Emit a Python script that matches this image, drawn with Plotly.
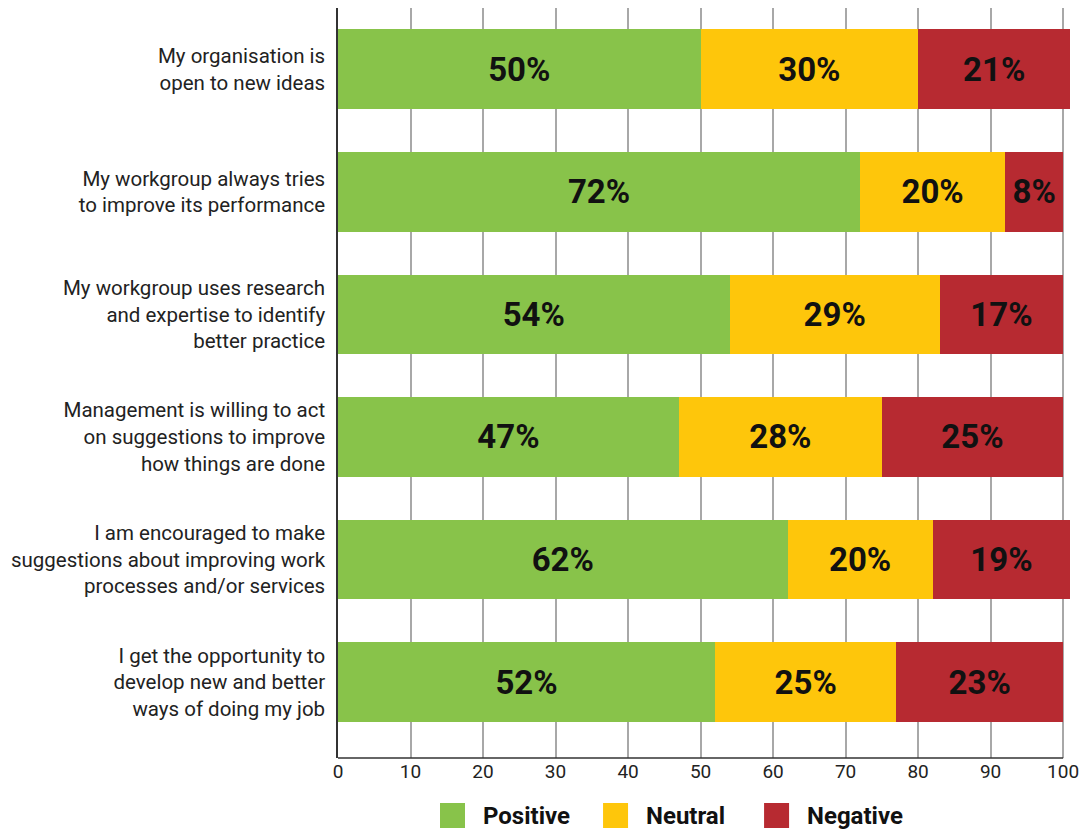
import plotly.graph_objects as go

categories = [
    "My organisation is<br>open to new ideas",
    "My workgroup always tries<br>to improve its performance",
    "My workgroup uses research<br>and expertise to identify<br>better practice",
    "Management is willing to act<br>on suggestions to improve<br>how things are done",
    "I am encouraged to make<br>suggestions about improving work<br>processes and/or services",
    "I get the opportunity to<br>develop new and better<br>ways of doing my job",
]
positive = [50, 72, 54, 47, 62, 52]
neutral = [30, 20, 29, 28, 20, 25]
negative = [21, 8, 17, 25, 19, 23]

series_names = ["Positive", "Neutral", "Negative"]
series_values = [positive, neutral, negative]
series_colors = ["#88C34A", "#FEC60B", "#B72A31"]

tick_vals = list(range(0, 101, 10))
tick_text = [str(v) for v in tick_vals]

FONT = "Roboto"

W, H = 1083, 829
plot_left, plot_top, plot_bottom = 338, 8, 758   # page pixels
x100_px = 1063                                     # page pixel of x = 100
x_max = 101.5
px_per_unit = (x100_px - plot_left) / 100.0
plot_right = plot_left + px_per_unit * x_max

L = plot_left
T = plot_top
B = H - plot_bottom
R_MARGIN = W - plot_right
plot_h = plot_bottom - plot_top


def px_to_x(px):
    return (px - plot_left) / px_per_unit


def py_to_paper(py):
    return (plot_bottom - py) / plot_h


fig = go.Figure()
for name, vals, col in zip(series_names, series_values, series_colors):
    fig.add_trace(go.Bar(
        y=categories, x=vals, name=name, orientation="h",
        marker=dict(color=col, line=dict(width=0)),
        text=[f"{v}%" for v in vals],
        textposition="inside", insidetextanchor="middle", textangle=0,
        textfont=dict(family=FONT, size=33, color="#111111", weight="bold"),
        showlegend=False, hoverinfo="x+y",
    ))

# x-axis baseline from 0 to 100
fig.add_shape(type="line", xref="x", yref="paper", x0=0, x1=100, y0=0, y1=0,
              line=dict(color="#333333", width=1.5), layer="above")

# custom legend
leg_sq_left = [440, 603, 764]
for name, col, sx in zip(series_names, series_colors, leg_sq_left):
    fig.add_shape(type="rect", xref="x", yref="paper",
                  x0=px_to_x(sx), x1=px_to_x(sx + 25),
                  y0=py_to_paper(828), y1=py_to_paper(803),
                  fillcolor=col, line=dict(width=0))
    fig.add_annotation(xref="x", yref="paper", x=px_to_x(sx + 41), y=py_to_paper(815.5),
                       text=f"<b>{name}</b>", showarrow=False, xanchor="left", yanchor="middle",
                       font=dict(family=FONT, size=24, color="#111111"))

fig.update_layout(
    barmode="stack",
    bargap=0.35,
    width=W, height=H,
    margin=dict(l=L, r=R_MARGIN, t=T, b=B, pad=0, autoexpand=False),
    plot_bgcolor="white", paper_bgcolor="white",
    font=dict(family=FONT, color="#222222"),
    uniformtext=dict(minsize=33, mode="show"),
    xaxis=dict(
        range=[0, x_max], tickvals=tick_vals, ticktext=tick_text,
        showgrid=True, gridcolor="#A8A8A8", gridwidth=1.5,
        zeroline=False, showline=False, ticks="",
        ticklabeloverflow="allow",
        tickfont=dict(family=FONT, size=19, color="#222222"),
    ),
    yaxis=dict(
        categoryorder="array", categoryarray=categories,
        range=[5.62, -0.5],
        showline=True, linecolor="#333333", linewidth=1.5,
        showgrid=False, zeroline=False, ticks="",
        ticklabelstandoff=7,
        tickfont=dict(family=FONT, size=20.5, color="#222222"),
    ),
)

fig.write_html(
    "out.html",
    config={"displayModeBar": False},
    post_script="document.body.style.margin='0';document.body.style.overflow='hidden';",
)
